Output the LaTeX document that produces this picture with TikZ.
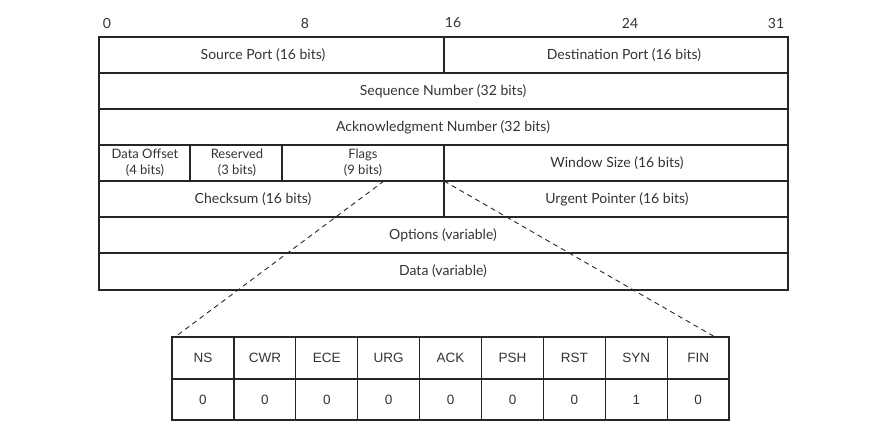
\documentclass[tikz,border=0pt]{standalone}
\usepackage{fontspec}
\setmainfont{Lato}
\newfontfamily\flagfont{Liberation Sans}
\begin{document}
\begin{tikzpicture}[x=1pt,y=-1pt,
	frame/.style={line width=1.3pt, draw=black!85},
	lbl/.style={font=\fontsize{14}{16}\selectfont, text=black!80},
	twoline/.style={font=\fontsize{13}{16}\selectfont, text=black!80, align=center},
	flag/.style={font=\flagfont\fontsize{13.5}{15}\selectfont, text=black!80},
	zoomline/.style={line width=0.9pt, draw=black!85, dash pattern=on 5pt off 4pt}]
				\useasboundingbox (0,0) rectangle (887,443);
				
				% bit ruler
				\foreach \b/\x in {0/107,8/305,16/453,24/630,31/776}
					\node[lbl] (bit\b) at (\x,23) {\b};
				
				% header
				\draw[frame] (99,37) rectangle (444,73);
				\draw[frame] (444,37) rectangle (788,73);
				\node[lbl] (srcport) at (263,55) {Source Port (16 bits)};
				\node[lbl] (dstport) at (624,55) {Destination Port (16 bits)};
				
				\draw[frame] (99,73) rectangle (788,109);
				\node[lbl] (seqnum) at (443,91) {Sequence Number (32 bits)};
				\draw[frame] (99,109) rectangle (788,145);
				\node[lbl] (acknum) at (443,127) {Acknowledgment Number (32 bits)};
				
				\draw[frame] (99,145) rectangle (190,181);
				\draw[frame] (190,145) rectangle (282,181);
				\draw[frame] (282,145) rectangle (444,181);
				\draw[frame] (444,145) rectangle (788,181);
				\node[twoline] (offset) at (145,163) {Data Offset\\(4 bits)};
				\node[twoline] (reserved) at (237,163) {Reserved\\(3 bits)};
				\node[twoline] (flags) at (363,163) {Flags\\(9 bits)};
				\node[lbl] (window) at (617,163) {Window Size (16 bits)};
				
				\draw[frame] (99,181) rectangle (444,217);
				\draw[frame] (444,181) rectangle (788,217);
				\node[lbl] (checksum) at (253,199) {Checksum (16 bits)};
				\node[lbl] (urgent) at (617,199) {Urgent Pointer (16 bits)};
				
				\draw[frame] (99,217) rectangle (788,253);
				\node[lbl] (options) at (443,235) {Options (variable)};
				\draw[frame] (99,253) rectangle (788,290);
				\node[lbl] (data) at (443,271.5) {Data (variable)};
				
				% flag bits
				\foreach \f/\v [count=\i from 0] in {NS/0,CWR/0,ECE/0,URG/0,ACK/0,PSH/0,RST/0,SYN/1,FIN/0} {
					\draw[frame] ({172+\i*61.9},337) rectangle ++(61.9,42);
					\draw[frame] ({172+\i*61.9},379) rectangle ++(61.9,41);
					\node[flag] (f\f) at ({203+\i*61.9},358) {\f};
					\node[flag] (v\f) at ({203+\i*61.9},399.5) {\v};
				}
				
				\coordinate (flagsfoot) at (384,181);
				\coordinate (windowfoot) at (444,181);
				\coordinate (nscorner) at (175,337);
				\coordinate (fincorner) at (715,337);
				\draw[zoomline] (flagsfoot) -- (nscorner);
				\draw[zoomline] (windowfoot) -- (fincorner);
			\end{tikzpicture}
\end{document}
